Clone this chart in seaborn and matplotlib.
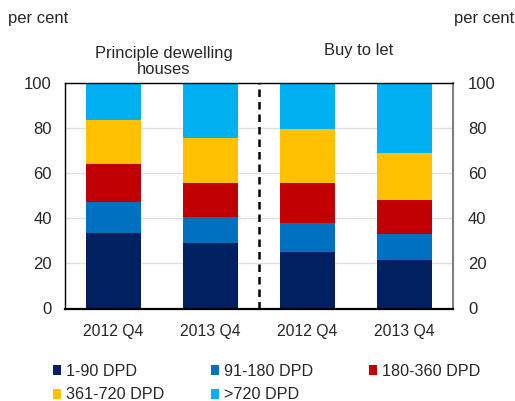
import numpy as np
import pandas as pd
import matplotlib
matplotlib.use("Agg")
import matplotlib.pyplot as plt
import seaborn as sns
from matplotlib.patches import Patch

# ---- data ----
bar_keys = ["PDH 2012 Q4", "PDH 2013 Q4", "BTL 2012 Q4", "BTL 2013 Q4"]
tick_labels = ["2012 Q4", "2013 Q4", "2012 Q4", "2013 Q4"]
series_names = ["1-90 DPD", "91-180 DPD", "180-360 DPD", "361-720 DPD", ">720 DPD"]
dpd_1_90 = [33.5, 29.1, 25.0, 21.7]
dpd_91_180 = [13.5, 11.4, 12.7, 11.1]
dpd_180_360 = [16.8, 15.2, 17.8, 15.2]
dpd_361_720 = [19.7, 19.8, 24.1, 20.8]
dpd_720 = [16.5, 24.5, 20.4, 31.2]
group_labels = ["Principle dewelling\nhouses", "Buy to let"]
colors = ["#002060", "#0070C0", "#C00000", "#FFC000", "#00B0F0"]

sns.set_theme(style="white")
plt.rcParams["font.family"] = ["Liberation Sans", "DejaVu Sans"]

df = pd.DataFrame({"bar": bar_keys,
                   series_names[0]: dpd_1_90,
                   series_names[1]: dpd_91_180,
                   series_names[2]: dpd_180_360,
                   series_names[3]: dpd_361_720,
                   series_names[4]: dpd_720})
cum = df[series_names].cumsum(axis=1)

W, H = 515, 401
fig = plt.figure(figsize=(W / 100, H / 100), dpi=100)
ax = fig.add_axes([65 / W, 1 - 308.5 / H, (452.7 - 65) / W, (308.5 - 82.7) / H])

for name, col in reversed(list(zip(series_names, colors))):
    sns.barplot(x=df["bar"], y=cum[name], order=bar_keys, color=col,
                width=0.57, ax=ax, saturation=1, linewidth=0)

ax.set_xlim(-0.5, 3.5)
ax.set_ylim(0, 100)
ax.set_yticks([0, 20, 40, 60, 80, 100])
ax.set_xticks(range(4))
ax.set_xticklabels(tick_labels, fontsize=11.3)
ax.tick_params(axis="y", labelsize=12, length=0, pad=9.5)
ax.tick_params(axis="x", length=0, pad=11)
ax.set_xlabel("")
ax.set_ylabel("")
ax.yaxis.grid(True, color="#e0e0e0", linewidth=1)
ax.set_axisbelow(True)
ax.axvline(1.5, color="black", linestyle=(0, (3.0, 2.0)), linewidth=1.8)

for s in ["left", "top"]:
    ax.spines[s].set_color("black")
    ax.spines[s].set_linewidth(1.0)
ax.spines["bottom"].set_color("black")
ax.spines["bottom"].set_linewidth(1.6)
ax.spines["right"].set_color("#808080")
ax.spines["right"].set_linewidth(1.5)

ax2 = ax.twinx()
ax2.set_ylim(0, 100)
ax2.set_yticks([0, 20, 40, 60, 80, 100])
ax2.tick_params(axis="y", labelsize=12, length=0, pad=11)
for s in ax2.spines.values():
    s.set_visible(False)

fig.text(8 / W, 1 - 19 / H, "per cent", fontsize=12, ha="left", va="center")
fig.text(514 / W, 1 - 19 / H, "per cent", fontsize=12, ha="right", va="center")
fig.text(164 / W, 1 - 61.5 / H, group_labels[0], fontsize=11.9, ha="center",
         va="center", linespacing=1.05)
fig.text(359 / W, 1 - 51 / H, group_labels[1], fontsize=11.9, ha="center", va="center")

handles = [Patch(facecolor=c, edgecolor="none", label=n) for n, c in zip(series_names, colors)]
col_items = [[0, 3], [1, 4], [2]]
col_x = [53, 211, 369]
for xs, idx in zip(col_x, col_items):
    fig.legend(handles=[handles[i] for i in idx], labels=[series_names[i] for i in idx],
               loc="upper left", bbox_to_anchor=(xs / W, 1 - 363.5 / H),
               frameon=False, fontsize=11.6, handlelength=0.5, handleheight=0.55,
               handletextpad=0.3, labelspacing=0.55, borderpad=0, borderaxespad=0)

fig.savefig("out.png", dpi=100)
